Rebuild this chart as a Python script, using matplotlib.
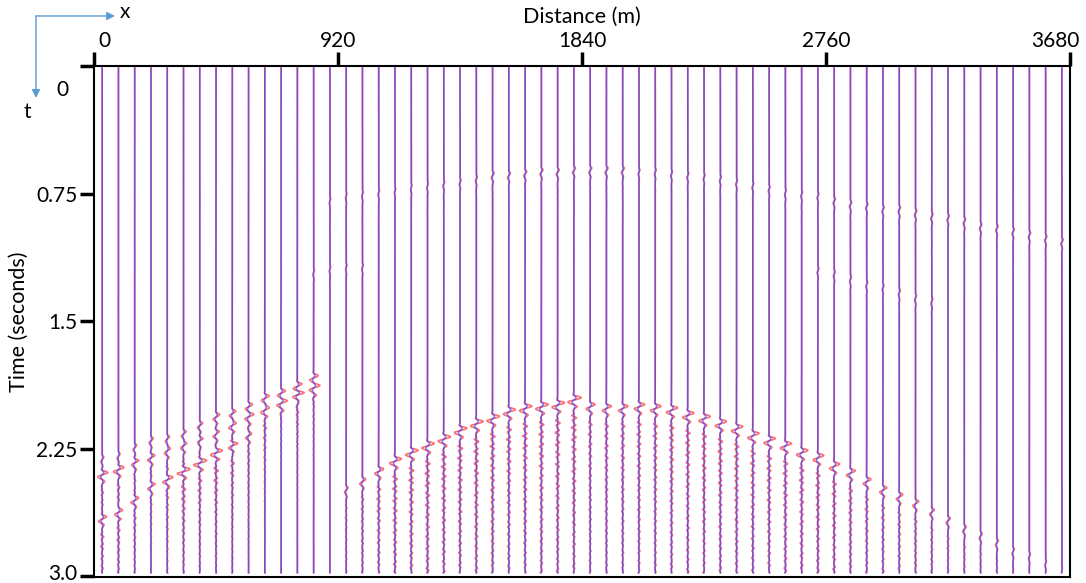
import numpy as np
import matplotlib.pyplot as plt
from matplotlib.patches import FancyArrowPatch
from matplotlib.transforms import ScaledTranslation

plt.rcParams['font.family'] = ['Lato', 'DejaVu Sans']

# receiver line: 60 traces over 3680 m, 3 s records
n_traces = 60
max_distance = 3680
t = np.arange(0.012, 2.982, 0.002)

x_ticks = [0, 920, 1840, 2760, 3680]
t_ticks = [0, 0.75, 1.5, 2.25, 3.0]
t_tick_labels = ['0', '0.75', '1.5', '2.25', '3.0']

# picked events: trace index, arrival time (s), amplitude (in trace spacings)
left_top_traces = [0, 1, 2, 3, 4, 5, 6, 7, 8, 9, 10, 11, 12, 13]
left_top_t = [2.30, 2.28, 2.23, 2.19, 2.18, 2.15, 2.10, 2.05, 2.03, 1.99, 1.94, 1.91, 1.87, 1.82]
left_top_amp = [0.10, 0.10, 0.12, 0.14, 0.14, 0.16, 0.18, 0.22, 0.22, 0.24, 0.26, 0.26, 0.28, 0.28]

left_mid_traces = [0, 1, 2, 3, 4, 5, 6, 7, 8, 9, 10, 11, 12, 13]
left_mid_t = [2.39, 2.36, 2.32, 2.29, 2.25, 2.22, 2.19, 2.15, 2.10, 2.05, 2.01, 1.97, 1.92, 1.88]
left_mid_amp = [0.35, 0.35, 0.25, 0.25, 0.20, 0.20, 0.20, 0.22, 0.25, 0.25, 0.28, 0.30, 0.30, 0.30]

left_low_traces = [0, 1, 2, 3, 4, 5, 6, 7, 8, 9]
left_low_t = [2.65, 2.61, 2.54, 2.46, 2.42, 2.37, 2.32, 2.26, 2.22, 2.16]
left_low_amp = [0.25, 0.28, 0.25, 0.25, 0.35, 0.40, 0.45, 0.40, 0.25, 0.20]

dome_traces = list(range(15, 60))
dome_t = [2.48, 2.43, 2.37, 2.31, 2.26, 2.22, 2.18, 2.13, 2.09, 2.06,
          2.02, 2.00, 1.99, 1.98, 1.95, 1.99, 2.00, 2.00, 1.99, 2.00,
          2.01, 2.04, 2.06, 2.09, 2.12, 2.16, 2.19, 2.22, 2.26, 2.29,
          2.34, 2.38, 2.43, 2.48, 2.52, 2.56, 2.61, 2.66, 2.71, 2.75,
          2.79, 2.84, 2.87, 2.91, 2.95]
dome_amp = [0.12, 0.20, 0.30, 0.40, 0.42, 0.42, 0.42, 0.42, 0.42, 0.42,
            0.40, 0.42, 0.42, 0.42, 0.45, 0.30, 0.30, 0.32, 0.35, 0.35,
            0.38, 0.38, 0.38, 0.38, 0.38, 0.38, 0.38, 0.38, 0.38, 0.36,
            0.34, 0.30, 0.26, 0.24, 0.22, 0.20, 0.16, 0.14, 0.12, 0.10,
            0.10, 0.08, 0.06, 0.05, 0.03]

arc_traces = list(range(14, 60))
arc_t = [0.78, 0.75, 0.74, 0.73, 0.72, 0.70, 0.69, 0.68, 0.67, 0.65,
         0.63, 0.63, 0.62, 0.61, 0.61, 0.60, 0.60, 0.60, 0.60, 0.61,
         0.61, 0.62, 0.63, 0.64, 0.65, 0.67, 0.69, 0.71, 0.73, 0.74,
         0.75, 0.78, 0.80, 0.81, 0.83, 0.83, 0.85, 0.87, 0.88, 0.90,
         0.93, 0.94, 0.96, 0.98, 1.00, 1.02]
arc_amp = [0.05, 0.05, 0.05, 0.05, 0.05, 0.05, 0.05, 0.06, 0.06, 0.06,
           0.10, 0.10, 0.10, 0.10, 0.10, 0.10, 0.10, 0.10, 0.10, 0.06,
           0.06, 0.06, 0.06, 0.06, 0.06, 0.06, 0.06, 0.06, 0.06, 0.06,
           0.06, 0.08, 0.08, 0.08, 0.08, 0.08, 0.08, 0.08, 0.08, 0.08,
           0.08, 0.08, 0.08, 0.08, 0.08, 0.08]

arc_low_traces = [13, 14, 15, 16, 44, 45, 46, 47, 48, 49, 50, 51]
arc_low_t = [1.20, 1.18, 1.17, 1.17, 1.19, 1.21, 1.24, 1.27, 1.29, 1.32, 1.35, 1.37]
arc_low_amp = [0.05, 0.05, 0.05, 0.05, 0.06, 0.06, 0.06, 0.06, 0.06, 0.06, 0.06, 0.06]


def wavelet(tau, f=18.0):
    env = np.where(tau < 0, np.exp(-(tau / 0.015) ** 2), np.exp(-(tau / 0.06) ** 2))
    return env * np.cos(2 * np.pi * f * tau)


def ringing(tau, decay):
    ring = np.sin(2 * np.pi * 27 * tau) + 0.6 * np.sin(2 * np.pi * 43 * tau + 1.0)
    onset = np.clip((tau - 0.05) / 0.05, 0, 1)
    return onset * np.exp(-np.clip(tau, 0, None) / decay) * ring


observed = np.zeros((n_traces, t.size))
predicted = np.zeros((n_traces, t.size))


def add_event(traces, times, amps, coda=0.0, decay=0.5):
    for i, t0, a in zip(traces, times, amps):
        tau = t - t0
        w = wavelet(tau)
        observed[i] += a * (w + coda * ringing(tau, decay))
        predicted[i] += a * 0.3 * w


add_event(left_top_traces, left_top_t, left_top_amp, coda=0.2, decay=0.3)
add_event(left_mid_traces, left_mid_t, left_mid_amp, coda=0.2, decay=0.3)
add_event(left_low_traces, left_low_t, left_low_amp, coda=0.25, decay=0.4)
add_event(dome_traces, dome_t, dome_amp, coda=0.25, decay=1.0)
add_event(arc_traces, arc_t, arc_amp, coda=0.2, decay=0.15)
add_event(arc_low_traces, arc_low_t, arc_low_amp)

spacing = max_distance / n_traces
trace_x = spacing * (np.arange(n_traces) + 0.5)

fig = plt.figure(figsize=(10.86, 5.83), dpi=100)
ax = fig.add_axes([0.0866, 0.0103, 0.8987, 0.8765])

for i in range(n_traces):
    ax.plot(trace_x[i] + spacing * observed[i], t, color='#ff4040', lw=1.2, alpha=0.75)
    ax.plot(trace_x[i] + spacing * predicted[i], t, color='#3030ff', lw=1.2, alpha=0.6)

ax.set_xlim(0, max_distance)
ax.set_ylim(3.005, 0)
ax.xaxis.tick_top()
ax.xaxis.set_label_position('top')
ax.set_xticks(x_ticks)
ax.set_xticklabels([str(v) for v in x_ticks])
ax.set_yticks(t_ticks)
ax.set_yticklabels(t_tick_labels)
ax.tick_params(axis='both', direction='out', length=10, width=2.5, labelsize=15)
ax.tick_params(axis='x', pad=1)
ax.tick_params(axis='y', pad=2)
ax.set_xlabel('Distance (m)', fontsize=15.5, labelpad=6)
ax.set_ylabel('Time (seconds)', fontsize=15.5, labelpad=5)
for s in ax.spines.values():
    s.set_linewidth(1.5)

# nudge end labels
xlabs = ax.xaxis.get_majorticklabels()
xlabs[0].set_transform(xlabs[0].get_transform() + ScaledTranslation(0.1, 0, fig.dpi_scale_trans))
xlabs[-1].set_transform(xlabs[-1].get_transform() + ScaledTranslation(-0.15, 0, fig.dpi_scale_trans))
ylabs = ax.yaxis.get_majorticklabels()
ylabs[0].set_transform(ylabs[0].get_transform() + ScaledTranslation(-0.09, -0.22, fig.dpi_scale_trans))
ylabs[-1].set_transform(ylabs[-1].get_transform() + ScaledTranslation(0, 0.04, fig.dpi_scale_trans))

# x / t orientation arrows
arrow_color = '#5b9bd5'
fig.add_artist(FancyArrowPatch((0.0331, 0.9726), (0.1059, 0.9726), transform=fig.transFigure,
                               arrowstyle='-|>', mutation_scale=12, color=arrow_color, lw=1.0,
                               shrinkA=0, shrinkB=0))
fig.add_artist(FancyArrowPatch((0.0331, 0.9726), (0.0331, 0.832), transform=fig.transFigure,
                               arrowstyle='-|>', mutation_scale=12, color=arrow_color, lw=1.0,
                               shrinkA=0, shrinkB=0))
fig.text(0.1151, 0.979, 'x', fontsize=15, ha='center', va='center')
fig.text(0.0249, 0.808, 't', fontsize=15, ha='center', va='center')

fig.savefig('out.png', dpi=100)
